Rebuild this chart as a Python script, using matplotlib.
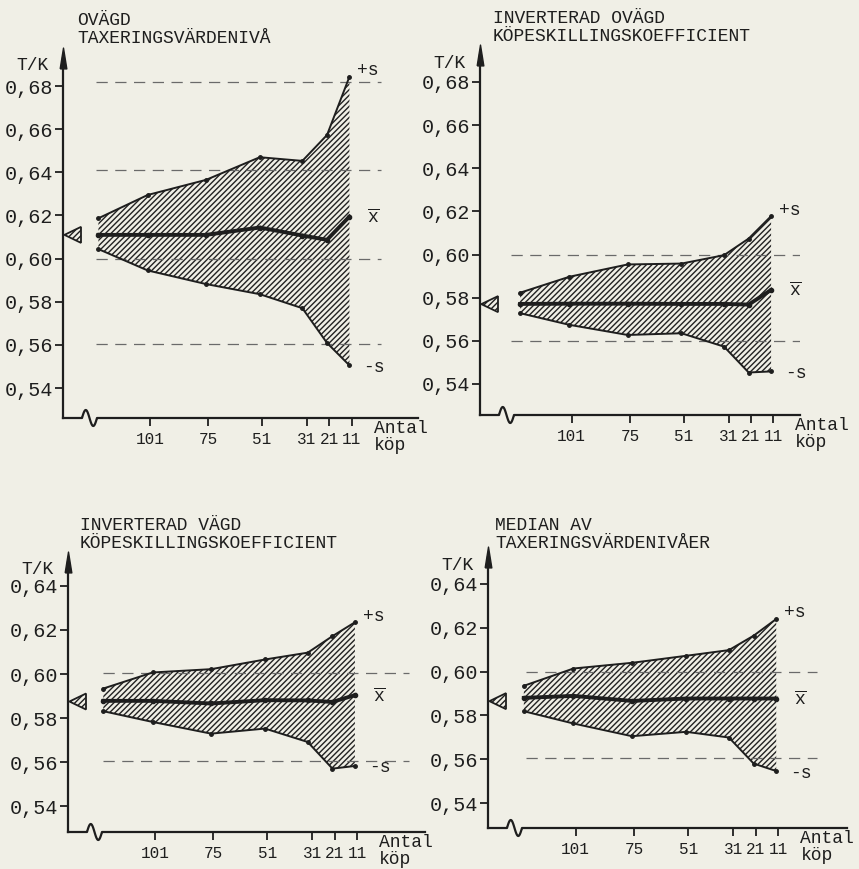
import matplotlib
matplotlib.use('Agg')
import numpy as np
import matplotlib.pyplot as plt
from matplotlib.path import Path
from matplotlib.patches import Polygon
import matplotlib.transforms as mtransforms

plt.rcParams['font.family'] = ['Liberation Mono', 'DejaVu Sans Mono']
plt.rcParams['mathtext.fontset'] = 'custom'
plt.rcParams['mathtext.tt'] = 'Liberation Mono'
plt.rcParams['mathtext.rm'] = 'Liberation Mono'
plt.rcParams['hatch.linewidth'] = 1.0
plt.rcParams['hatch.color'] = '#222222'

# antal köp at which the curves are plotted
antal = [124, 102, 76, 52, 33, 22, 12]
xtick_vals = [101, 75, 51, 31, 21, 11]

titles = ['OVÄGD\nTAXERINGSVÄRDENIVÅ',
          'INVERTERAD OVÄGD\nKÖPESKILLINGSKOEFFICIENT',
          'INVERTERAD VÄGD\nKÖPESKILLINGSKOEFFICIENT',
          'MEDIAN AV\nTAXERINGSVÄRDENIVÅER']

# upper (+s), mean and lower (-s) per panel
upper_1 = [0.6187, 0.6295, 0.6365, 0.6470, 0.6453, 0.6573, 0.6843]
mean_1 = [0.6110, 0.6110, 0.6110, 0.6144, 0.6107, 0.6087, 0.6195]
lower_1 = [0.6044, 0.5945, 0.5882, 0.5835, 0.5770, 0.5609, 0.5505]

upper_2 = [0.5823, 0.5897, 0.5954, 0.5958, 0.5997, 0.6074, 0.6178]
mean_2 = [0.5771, 0.5772, 0.5772, 0.5771, 0.5771, 0.5768, 0.5836]
lower_2 = [0.5728, 0.5674, 0.5627, 0.5635, 0.5573, 0.5453, 0.5458]

upper_3 = [0.5934, 0.6007, 0.6022, 0.6066, 0.6097, 0.6172, 0.6235]
mean_3 = [0.5878, 0.5878, 0.5866, 0.5881, 0.5880, 0.5873, 0.5904]
lower_3 = [0.5831, 0.5782, 0.5729, 0.5752, 0.5691, 0.5570, 0.5582]

upper_4 = [0.5935, 0.6014, 0.6040, 0.6072, 0.6098, 0.6164, 0.6240]
mean_4 = [0.5880, 0.5889, 0.5866, 0.5877, 0.5877, 0.5877, 0.5877]
lower_4 = [0.5819, 0.5763, 0.5705, 0.5725, 0.5699, 0.5580, 0.5546]

# value marked with the arrow on the y axis
start_1, start_2, start_3, start_4 = 0.611, 0.577, 0.5875, 0.5865

yticks_top = [0.54, 0.56, 0.58, 0.60, 0.62, 0.64, 0.66, 0.68]
yticks_bottom = [0.54, 0.56, 0.58, 0.60, 0.62, 0.64]

# dashed reference lines per panel
ref_1 = [0.682, 0.641, 0.600, 0.5604]
ref_2 = [0.600, 0.560]
ref_3 = [0.6005, 0.5605]
ref_4 = [0.600, 0.5605]

W, H = 859, 869
BG = '#f0efe6'
INK = '#1e1e1e'

fig = plt.figure(figsize=(W / 100, H / 100), dpi=100, facecolor=BG)

# panel boxes in pixels: left, top, right, bottom ; and axis limits
boxes = [(63, 58, 418, 418), (480, 55, 800, 415),
         (68, 562, 425, 832), (488, 557, 847, 828)]
xlims = [(139.8, -18.6), (141.9, -0.9), (139.7, -19.2), (139.9, -19.4)]
ylims = [(0.5261, 0.693), (0.5256, 0.6925), (0.5282, 0.6509), (0.5286, 0.6523)]
title_pos = [(77, 12), (493, 10), (80, 517), (495, 517)]
ref_span = [(125, -2), (128, -7), (124, -12), (123, -6)]

panels = [(upper_1, mean_1, lower_1, start_1, ref_1, yticks_top),
          (upper_2, mean_2, lower_2, start_2, ref_2, yticks_top),
          (upper_3, mean_3, lower_3, start_3, ref_3, yticks_bottom),
          (upper_4, mean_4, lower_4, start_4, ref_4, yticks_bottom)]

arrow_marker = Path([(-0.32, -1), (0, 1), (0.32, -1), (-0.32, -1)])

for i, (up, mn, lo, start, refs, yt) in enumerate(panels):
    l, t, r, b = boxes[i]
    wpx, hpx = r - l, b - t
    ax = fig.add_axes([l / W, 1 - b / H, wpx / W, hpx / H])
    ax.set_facecolor('none')
    ax.set_xlim(*xlims[i])
    ax.set_ylim(*ylims[i])

    for s in ['top', 'right', 'bottom']:
        ax.spines[s].set_visible(False)
    ax.spines['left'].set_linewidth(1.6)
    ax.spines['left'].set_color(INK)

    # y axis arrow head
    ax.plot([0], [1.0], marker=arrow_marker, ms=15, color=INK,
            transform=ax.transAxes, clip_on=False)

    # x axis with break squiggle near the origin
    x0, x1 = 19 / wpx, 34 / wpx
    tt = np.linspace(0, 1, 40)
    sx = np.concatenate([[0], x0 + tt * (x1 - x0), [1]])
    sy = np.concatenate([[0], 8 * np.sin(2 * np.pi * tt) / hpx, [0]])
    ax.plot(sx, sy, color=INK, lw=1.6, transform=ax.transAxes, clip_on=False)

    ax.set_yticks(yt)
    ax.set_yticklabels([('%.2f' % v).replace('.', ',') for v in yt])
    ax.set_xticks(xtick_vals)
    ax.set_xticklabels([str(v) for v in xtick_vals])
    ax.tick_params(axis='y', direction='out', length=6, width=1.3,
                   labelsize=14.5, pad=1, colors=INK)
    ax.tick_params(axis='x', direction='out', length=6, width=1.3,
                   labelsize=11.5, pad=4, colors=INK)

    for rv in refs:
        ax.plot(ref_span[i], [rv, rv], color='#6a6a6a', lw=0.9,
                dashes=(9, 6))

    ax.fill_between(antal, lo, up, hatch='//////', facecolor='none',
                    edgecolor='#222222', linewidth=0)
    ax.plot(antal, up, color=INK, lw=1.4, marker='o', ms=2.5)
    ax.plot(antal, lo, color=INK, lw=1.4, marker='o', ms=2.5)
    ax.plot(antal, mn, color=INK, lw=2.8, marker='o', ms=3)

    # hatched arrow on the y axis at the overall value
    trans = mtransforms.blended_transform_factory(ax.transAxes, ax.transData)
    dx = 18 / wpx
    dy = 8 * (ylims[i][1] - ylims[i][0]) / hpx
    tri = Polygon([(0.004, start), (dx, start + dy), (dx, start - dy)],
                  closed=True, facecolor='none', edgecolor=INK, lw=1.3,
                  hatch='//////', transform=trans, clip_on=False)
    ax.add_patch(tri)

    # curve labels
    ax.annotate('+s', xy=(antal[-1], up[-1]), xytext=(8, 6),
                textcoords='offset pixels', fontsize=13, color=INK,
                va='center', ha='left')
    ax.annotate(r'$\overline{\mathtt{x}}$', xy=(antal[-1], mn[-1]),
                xytext=(18, -1), textcoords='offset pixels', fontsize=13,
                color=INK, va='center', ha='left')
    ax.annotate('-s', xy=(antal[-1], lo[-1]), xytext=(14, -2),
                textcoords='offset pixels', fontsize=13, color=INK,
                va='center', ha='left')

    ax.annotate('T/K', xy=(0, 1), xycoords='axes fraction', xytext=(-14, -8),
                textcoords='offset pixels', fontsize=13, color=INK,
                ha='right', va='center')
    ax.annotate('Antal\nköp', xy=(11, 0),
                xycoords=mtransforms.blended_transform_factory(ax.transData, ax.transAxes),
                xytext=(22, -19), textcoords='offset pixels', fontsize=13,
                color=INK, ha='left', va='center', linespacing=0.95)

    tx, ty = title_pos[i]
    fig.text(tx / W, 1 - ty / H, titles[i], fontsize=13, color=INK,
             ha='left', va='top', linespacing=1.1)

fig.savefig('out.png', dpi=100, facecolor=BG)
